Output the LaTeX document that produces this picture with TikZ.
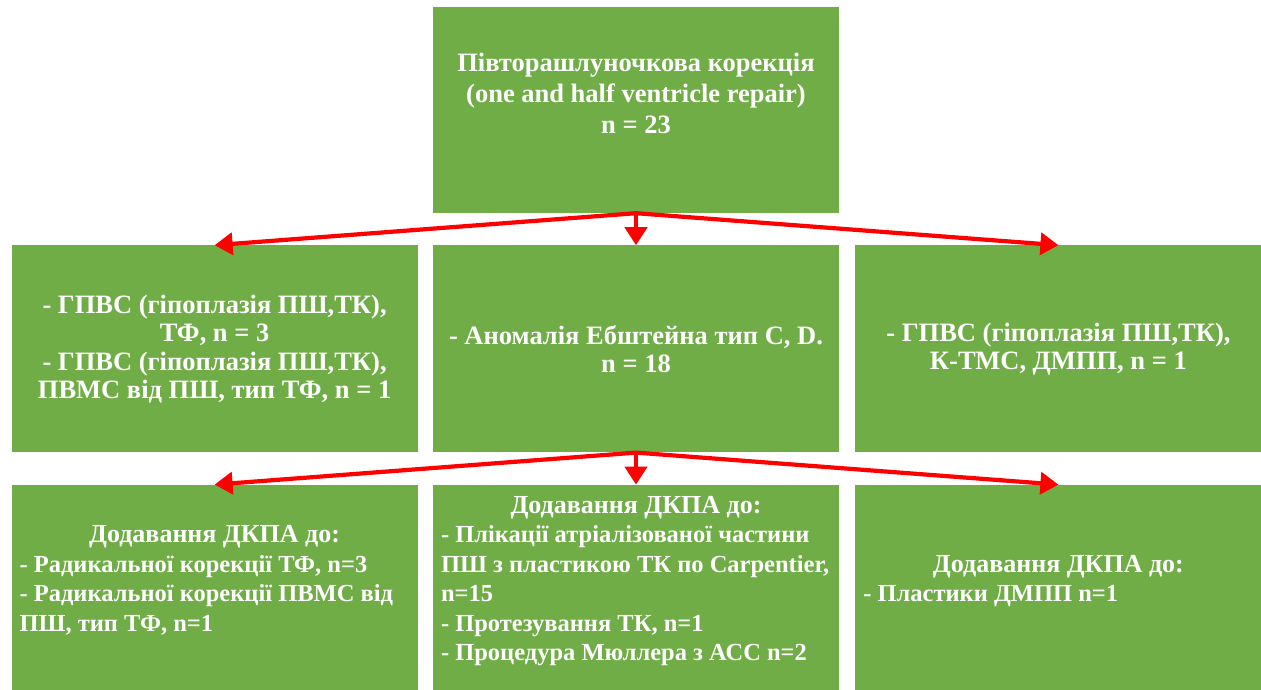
\documentclass[tikz,border=0pt]{standalone}
\usepackage{fontspec}
\setmainfont{Liberation Serif}
\usepackage{tikz}
\usetikzlibrary{arrows.meta,positioning}
\definecolor{leaf}{HTML}{70AD47}
\definecolor{arrowred}{HTML}{FF0000}
\tikzset{
  gbox/.style  ={draw=none,fill=leaf,text=white,inner sep=8pt,align=center,
                 minimum width=406pt,minimum height=207pt,
                 font=\fontsize{26.5}{28.5}\selectfont\bfseries},
  addbox/.style={gbox,text depth=20pt,font=\fontsize{24.5}{29.5}\selectfont\bfseries},
  flow/.style  ={-{Triangle[length=18pt,width=22pt]},line width=4.2pt,draw=arrowred}
}
\newcommand\headline[1]{{\fontsize{26}{29.5}\selectfont #1}}
\newcommand\entryline[1]{\makebox[390pt][l]{#1}}

\begin{document}
\begin{tikzpicture}[x=1pt,y=-1pt]
  \useasboundingbox (0,0) rectangle (1261,689);
  \node[gbox,minimum height=206pt,text depth=34pt,
        font=\fontsize{26.5}{31}\selectfont\bfseries] (repair) at (636,110)
    {Півторашлуночкова корекція\\(one and half ventricle repair)\\n = 23};
  \node[gbox,below=32pt of repair] (ebstein) {- Аномалія Ебштейна тип C, D.\\n = 18};
  \node[gbox,left=15pt of ebstein] (hypo)
    {- ГПВС (гіпоплазія ПШ,ТК),\\ТФ, n = 3\\- ГПВС (гіпоплазія ПШ,ТК),\\ПВМС від ПШ, тип ТФ, n = 1};
  \node[gbox,right=16pt of ebstein] (tms) {- ГПВС (гіпоплазія ПШ,ТК),\\К-ТМС, ДМПП, n = 1};
  \node[addbox,below=32pt of ebstein] (addmid)
    {\headline{Додавання ДКПА до:}\\
     \entryline{- Плікації атріалізованої частини}\\
     \entryline{ПШ з пластикою ТК по Carpentier,}\\
     \entryline{n=15}\\
     \entryline{- Протезування ТК, n=1}\\
     \entryline{- Процедура Мюллера з АСС n=2}};
  \node[addbox,left=15pt of addmid] (addleft)
    {\headline{Додавання ДКПА до:}\\
     \entryline{- Радикальної корекції ТФ, n=3}\\
     \entryline{- Радикальної корекції ПВМС від}\\
     \entryline{ПШ, тип ТФ, n=1}};
  \node[addbox,right=16pt of addmid] (addright)
    {\headline{Додавання ДКПА до:}\\
     \entryline{- Пластики ДМПП n=1}};
  \draw[flow] (repair.south) -- (hypo.north);
  \draw[flow] (repair.south) -- (ebstein.north);
  \draw[flow] (repair.south) -- (tms.north);
  \draw[flow] (ebstein.south) -- (addleft.north);
  \draw[flow] (ebstein.south) -- (addmid.north);
  \draw[flow] (ebstein.south) -- (addright.north);
\end{tikzpicture}
\end{document}
